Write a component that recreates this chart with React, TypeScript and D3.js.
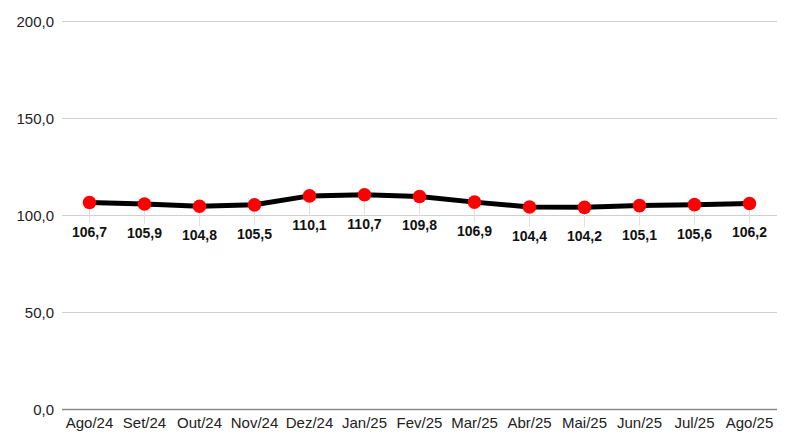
import React from "react";
import * as d3 from "d3";

const categories = ["Ago/24","Set/24","Out/24","Nov/24","Dez/24","Jan/25","Fev/25","Mar/25","Abr/25","Mai/25","Jun/25","Jul/25","Ago/25"];
const values = [106.7,105.9,104.8,105.5,110.1,110.7,109.8,106.9,104.4,104.2,105.1,105.6,106.2];
const yTicks = [0,50,100,150,200];

const W = 798, H = 443;
const left = 62, right = 777, top = 21.5, bottom = 409.5;

const fmt = (v: number) => v.toFixed(1).replace(".", ",");

export default function App() {
  const x = d3.scaleBand<string>().domain(categories).range([left, right]);
  const y = d3.scaleLinear().domain([0, 200]).range([bottom, top]);
  const cx = (c: string) => (x(c) as number) + x.bandwidth() / 2;
  const line = d3.line<number>().x((_, i) => cx(categories[i])).y((d) => y(d));
  const font = "Liberation Sans, Arial, sans-serif";
  return (
    <svg width={W} height={H} style={{ position: "absolute", left: 0, top: 0, background: "#fff" }} fontFamily={font}>
      {yTicks.map((t) => (
        <g key={t}>
          <line x1={left} x2={right} y1={y(t)} y2={y(t)} stroke={t === 0 ? "#8a8a8a" : "#d0d0d0"} strokeWidth={t === 0 ? 1.5 : 1} />
          <text x={54} y={y(t) + 5} textAnchor="end" fontSize={15} fill="#222">{fmt(t)}</text>
        </g>
      ))}
      {categories.map((c) => (
        <text key={c} x={cx(c)} y={428} textAnchor="middle" fontSize={15} fill="#222">{c}</text>
      ))}
      {values.map((v, i) => (
        <line key={"l" + i} x1={cx(categories[i])} x2={cx(categories[i])} y1={y(v)} y2={y(v) + 20} stroke="#e0e0e0" strokeWidth={1} />
      ))}
      <path d={line(values) || ""} fill="none" stroke="#000" strokeWidth={5} strokeLinejoin="round" />
      {values.map((v, i) => (
        <circle key={"c" + i} cx={cx(categories[i])} cy={y(v)} r={6.8} fill="#ff0000" />
      ))}
      {values.map((v, i) => (
        <text key={"t" + i} x={cx(categories[i])} y={y(v) + 34} textAnchor="middle" fontSize={14} fontWeight="bold" fill="#111">{fmt(v)}</text>
      ))}
    </svg>
  );
}
